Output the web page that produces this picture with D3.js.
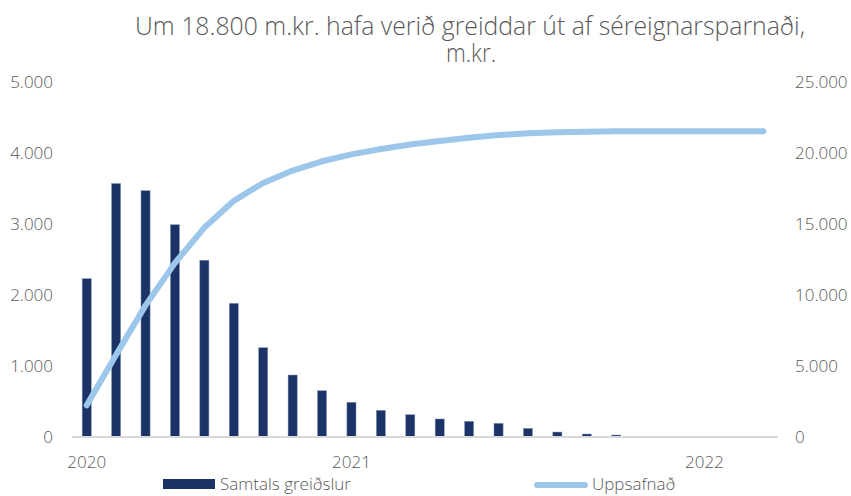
<!DOCTYPE html>
<html>
<head>
<meta charset="utf-8">
<script src="https://cdn.jsdelivr.net/npm/d3@7"></script>
<style>
body { margin: 0; background: #fff; }
svg text { font-family: "Open Sans", sans-serif; font-weight: 300; fill: #595959; }
</style>
</head>
<body>
<svg width="851" height="496"></svg>
<script>
// months Apr 2020 .. Mar 2022
var months = ["2020-04","2020-05","2020-06","2020-07","2020-08","2020-09","2020-10","2020-11","2020-12",
  "2021-01","2021-02","2021-03","2021-04","2021-05","2021-06","2021-07","2021-08","2021-09","2021-10","2021-11","2021-12",
  "2022-01","2022-02","2022-03"];
var payments = [2230,3570,3470,2990,2490,1883,1258,873,652,489,376,314,254,221,193,122,70,42,28,0,0,0,0,0];
var cumulative = [2230,5800,9270,12260,14750,16633,17891,18764,19416,19905,20281,20595,20849,21070,21263,21385,21455,21497,21525,21530,21535,21540,21540,21540];
var leftTicks = [0,1000,2000,3000,4000,5000];
var rightTicks = [0,5000,10000,15000,20000,25000];
var yearLabels = [{month:"2020-04", text:"2020"},{month:"2021-01", text:"2021"},{month:"2022-01", text:"2022"}];

var svg = d3.select("svg"),
    x0 = 72, x1 = 778, y0 = 437, y1 = 82;

var fmt = d3.formatLocale({decimal: ",", thousands: ".", grouping: [3], currency: ["", ""]}).format(",.0f");

var x = d3.scaleBand().domain(months).range([x0, x1]).paddingInner(0.69).paddingOuter(0.345);
var yL = d3.scaleLinear().domain([0, 5000]).range([y0, y1]);
var yR = d3.scaleLinear().domain([0, 25000]).range([y0, y1]);

// title
svg.append("text").attr("x", 470).attr("y", 35).attr("text-anchor", "middle")
    .style("font-size", "25px").attr("textLength", 670).attr("lengthAdjust", "spacingAndGlyphs")
    .text("Um 18.800 m.kr. hafa verið greiddar út af séreignarsparnaði,");
svg.append("text").attr("x", 471).attr("y", 62).attr("text-anchor", "middle")
    .style("font-size", "25px").attr("textLength", 50).attr("lengthAdjust", "spacingAndGlyphs")
    .text("m.kr.");

// left axis labels
svg.append("g").selectAll("text").data(leftTicks).enter().append("text")
    .attr("x", 53).attr("y", d => yL(d) + 6).attr("text-anchor", "end")
    .style("font-size", "17px").text(d => fmt(d));

// right axis labels
svg.append("g").selectAll("text").data(rightTicks).enter().append("text")
    .attr("x", 795).attr("y", d => yR(d) + 6).attr("text-anchor", "start")
    .style("font-size", "17px").text(d => fmt(d));

// bars
svg.append("g").selectAll("rect").data(payments).enter().append("rect")
    .attr("x", (d, i) => x(months[i]))
    .attr("width", x.bandwidth())
    .attr("y", d => yL(d))
    .attr("height", d => y0 - yL(d))
    .attr("fill", "#1b3366")
    .attr("stroke", "#8a9ab8").attr("stroke-width", 0.5);

// baseline
svg.append("line").attr("x1", x0).attr("x2", x1).attr("y1", y0).attr("y2", y0)
    .attr("stroke", "#d9d9d9").attr("stroke-width", 2);

// cumulative line
var line = d3.line()
    .x((d, i) => x(months[i]) + x.bandwidth() / 2)
    .y(d => yR(d));
svg.append("path").datum(cumulative).attr("d", line)
    .attr("fill", "none").attr("stroke", "#9dc7ea").attr("stroke-width", 6)
    .attr("stroke-linecap", "round").attr("stroke-linejoin", "round");

// year labels
svg.append("g").selectAll("text").data(yearLabels).enter().append("text")
    .attr("x", d => x(d.month) + x.bandwidth() / 2).attr("y", 468)
    .attr("text-anchor", "middle").style("font-size", "17px").text(d => d.text);

// legend
var lg = svg.append("g");
lg.append("rect").attr("x", 163).attr("y", 479).attr("width", 52).attr("height", 10).attr("fill", "#1b3366");
lg.append("text").attr("x", 220).attr("y", 490).style("font-size", "17px").text("Samtals greiðslur");
lg.append("line").attr("x1", 537).attr("x2", 585).attr("y1", 485).attr("y2", 485)
    .attr("stroke", "#9dc7ea").attr("stroke-width", 6).attr("stroke-linecap", "round");
lg.append("text").attr("x", 592).attr("y", 490).style("font-size", "17px").text("Uppsafnað");
</script>
</body>
</html>
